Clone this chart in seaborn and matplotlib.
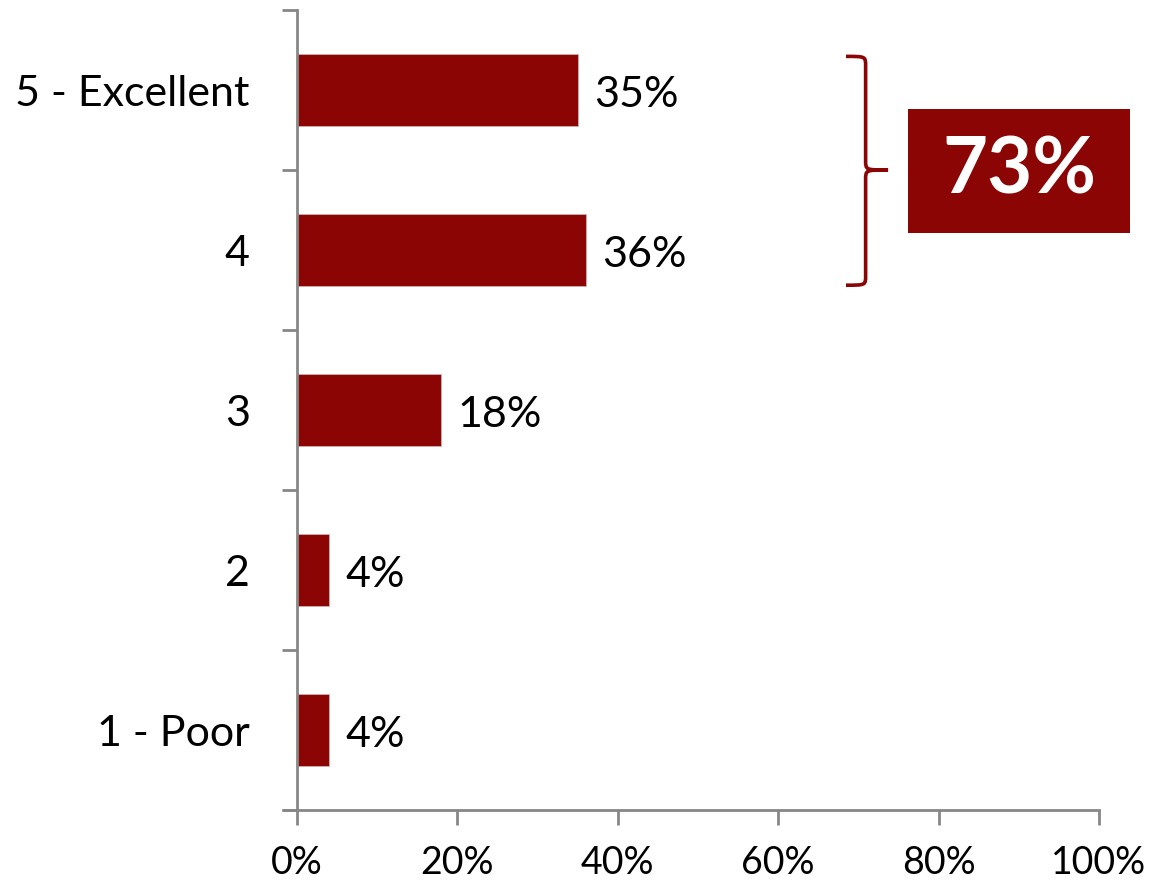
import matplotlib
matplotlib.use("Agg")
import matplotlib.pyplot as plt
import seaborn as sns
import pandas as pd
from matplotlib.path import Path
from matplotlib.patches import PathPatch, Rectangle

categories = ["5 - Excellent", "4", "3", "2", "1 - Poor"]
values = [35, 36, 18, 4, 4]
value_labels = ["35%", "36%", "18%", "4%", "4%"]
x_ticks = [0, 20, 40, 60, 80, 100]
x_tick_labels = ["0%", "20%", "40%", "60%", "80%", "100%"]
top_box_label = "73%"

RED = "#8B0505"
GRAY = "#878787"

sns.set_theme(style="white")
plt.rcParams["font.family"] = ["Lato", "DejaVu Sans"]

df = pd.DataFrame({"category": categories, "value": values})

fig = plt.figure(figsize=(11.6, 8.83), dpi=100)
ax = fig.add_axes([297/1160, 1-810/883, 802/1160, 800/883])

sns.barplot(data=df, y="category", x="value", order=categories, color=RED,
            saturation=1, width=0.455, ax=ax, edgecolor="#d0b0b0", linewidth=0.6)

ax.set_xlim(0, 100)
ax.set_ylim(4.5, -0.5)
ax.set_xlabel("")
ax.set_ylabel("")

for spine in ["top", "right"]:
    ax.spines[spine].set_visible(False)
for spine in ["left", "bottom"]:
    ax.spines[spine].set_color(GRAY)
    ax.spines[spine].set_linewidth(2)

ax.set_xticks(x_ticks)
ax.set_xticklabels(x_tick_labels, fontsize=27, color="black")
ax.set_yticks([i - 0.5 for i in range(len(categories) + 1)], minor=False)
ax.set_yticklabels([])
ax.set_yticks(range(len(categories)), minor=True)
ax.set_yticklabels(categories, minor=True, fontsize=31, color="black")
ax.tick_params(axis="y", which="major", direction="out", length=11, width=2, color=GRAY, left=True)
ax.tick_params(axis="y", which="minor", length=0, pad=34)
ax.tick_params(axis="x", direction="out", length=11, width=2, color=GRAY, bottom=True, pad=14)
ax.spines["bottom"].set_bounds(0, 100)

# extend x axis line leftwards to meet bottom y tick
ax.plot([-1.9, 0], [4.5, 4.5], color=GRAY, lw=2, clip_on=False, solid_capstyle="butt")

for i, (v, lab) in enumerate(zip(values, value_labels)):
    ax.text(v + 2.0, i + 0.03, lab, va="center", ha="left", fontsize=31, color="black")

# curly brace spanning the top two bars
def brace_path(x_end, x_spine, x_tip, y_top, y_mid, y_bot):
    c = 0.06
    verts = [
        (x_end, y_top),
        (x_spine, y_top), (x_spine, y_top), (x_spine, y_top + c),
        (x_spine, y_mid - c),
        (x_spine, y_mid), (x_spine, y_mid), (x_tip, y_mid),
        (x_spine, y_mid), (x_spine, y_mid), (x_spine, y_mid + c),
        (x_spine, y_bot - c),
        (x_spine, y_bot), (x_spine, y_bot), (x_end, y_bot),
    ]
    codes = [Path.MOVETO,
             Path.CURVE4, Path.CURVE4, Path.CURVE4,
             Path.LINETO,
             Path.CURVE4, Path.CURVE4, Path.CURVE4,
             Path.CURVE4, Path.CURVE4, Path.CURVE4,
             Path.LINETO,
             Path.CURVE4, Path.CURVE4, Path.CURVE4]
    return Path(verts, codes)

bp = brace_path(68.45, 70.9, 73.7, -0.21, 0.5, 1.22)
ax.add_patch(PathPatch(bp, facecolor="none", edgecolor=RED, lw=2.6, clip_on=False))

# highlight box
fig.patches.append(Rectangle((908/1160, 1-233/883), 222/1160, 124/883,
                             transform=fig.transFigure, facecolor=RED, edgecolor="none"))
fig.text(1019/1160, 1-172/883, top_box_label, ha="center", va="center",
         fontsize=56, fontweight="bold", color="white")

fig.savefig("out.png", dpi=100)
